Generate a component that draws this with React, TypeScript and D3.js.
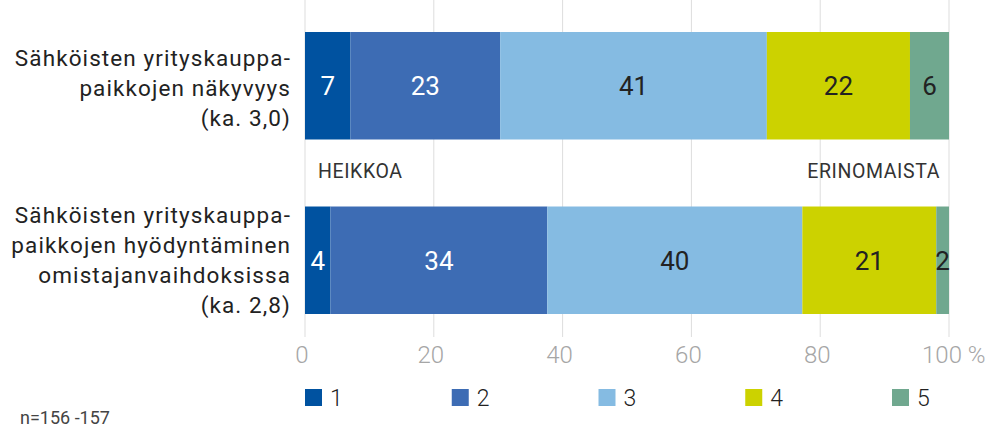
import React from "react";
import * as d3 from "d3";

const categories = [
  ["Sähköisten yrityskauppa-", "paikkojen näkyvyys", "(ka. 3,0)"],
  ["Sähköisten yrityskauppa-", "paikkojen hyödyntäminen", "omistajanvaihdoksissa", "(ka. 2,8)"],
];
const seriesNames = ["1", "2", "3", "4", "5"];
const values = [
  [7, 23, 41, 22, 6],
  [4, 34, 40, 21, 2],
];
const ticks = [0, 20, 40, 60, 80, 100];
const colors = ["#0052A0", "#3D6CB4", "#85BBE2", "#CCD200", "#70A88F"];
const labelColors = ["#ffffff", "#ffffff", "#222222", "#222222", "#222222"];

const W = 992;
const H = 432;
const FONT = "Roboto, 'Noto Sans', sans-serif";

export default function App() {
  const x = d3.scaleLinear().domain([0, 100]).range([305, 949]);
  const y = d3.scaleBand().domain(["0", "1"]).range([32, 314]).paddingInner(0.384).paddingOuter(0);
  const bh = y.bandwidth();

  return (
    <svg width={W} height={H} style={{ position: "absolute", left: 0, top: 0, background: "#fff" }}>
      {ticks.map((t) => (
        <line key={"g" + t} x1={x(t)} x2={x(t)} y1={0} y2={337} stroke="#dddddd" strokeWidth={1} />
      ))}
      {values.map((row, i) => {
        const total = d3.sum(row);
        const cum = d3.cumsum(row);
        const y0 = y(String(i))!;
        return (
          <g key={"b" + i}>
            {row.map((v, j) => {
              const a = x(((cum[j] - v) / total) * 100);
              const b = x((cum[j] / total) * 100);
              return (
                <g key={j}>
                  <rect x={a} y={y0} width={b - a} height={bh} fill={colors[j]} />
                  <text
                    x={(a + b) / 2}
                    y={y0 + bh / 2}
                    dy="0.36em"
                    textAnchor="middle"
                    fontFamily={FONT}
                    fontSize={26}
                    fill={labelColors[j]}
                  >
                    {v}
                  </text>
                </g>
              );
            })}
            {categories[i].map((line, k) => {
              const n = categories[i].length;
              const lh = 30;
              const cy = y0 + bh / 2 + (n === 3 ? 2 : 0) + (k - (n - 1) / 2) * lh;
              return (
                <text
                  key={"c" + k}
                  x={291}
                  y={cy}
                  dy="0.36em"
                  textAnchor="end"
                  fontFamily={FONT}
                  fontSize={22.5}
                  letterSpacing={1.1}
                  fill="#222"
                >
                  {line}
                </text>
              );
            })}
          </g>
        );
      })}
      <text x={318} y={171} dy="0.36em" fontFamily={FONT} fontSize={19.5} letterSpacing={0.6} fill="#333">
        HEIKKOA
      </text>
      <text x={940} y={171} dy="0.36em" textAnchor="end" fontFamily={FONT} fontSize={19.5} letterSpacing={0.6} fill="#333">
        ERINOMAISTA
      </text>
      {ticks.map((t) =>
        t === 100 ? (
          <text key={"t" + t} x={x(t) - 27} y={354} dy="0.36em" textAnchor="start" fontFamily={FONT} fontWeight={300} fontSize={24} fill="#a6a6a6">
            {t + " %"}
          </text>
        ) : (
          <text key={"t" + t} x={x(t) - 3} y={354} dy="0.36em" textAnchor="middle" fontFamily={FONT} fontWeight={300} fontSize={24} fill="#a6a6a6">
            {t}
          </text>
        )
      )}
      {seriesNames.map((s, j) => {
        const lx = 305 + j * 146.75;
        return (
          <g key={"l" + j}>
            <rect x={lx} y={389} width={17} height={17} fill={colors[j]} />
            <text x={lx + 25} y={397.5} dy="0.36em" fontFamily={FONT} fontWeight={300} fontSize={23} fill="#222">
              {s}
            </text>
          </g>
        );
      })}
      <text x={20} y={418} dy="0.36em" fontFamily={FONT} fontSize={18} fill="#444">
        n=156 -157
      </text>
    </svg>
  );
}
